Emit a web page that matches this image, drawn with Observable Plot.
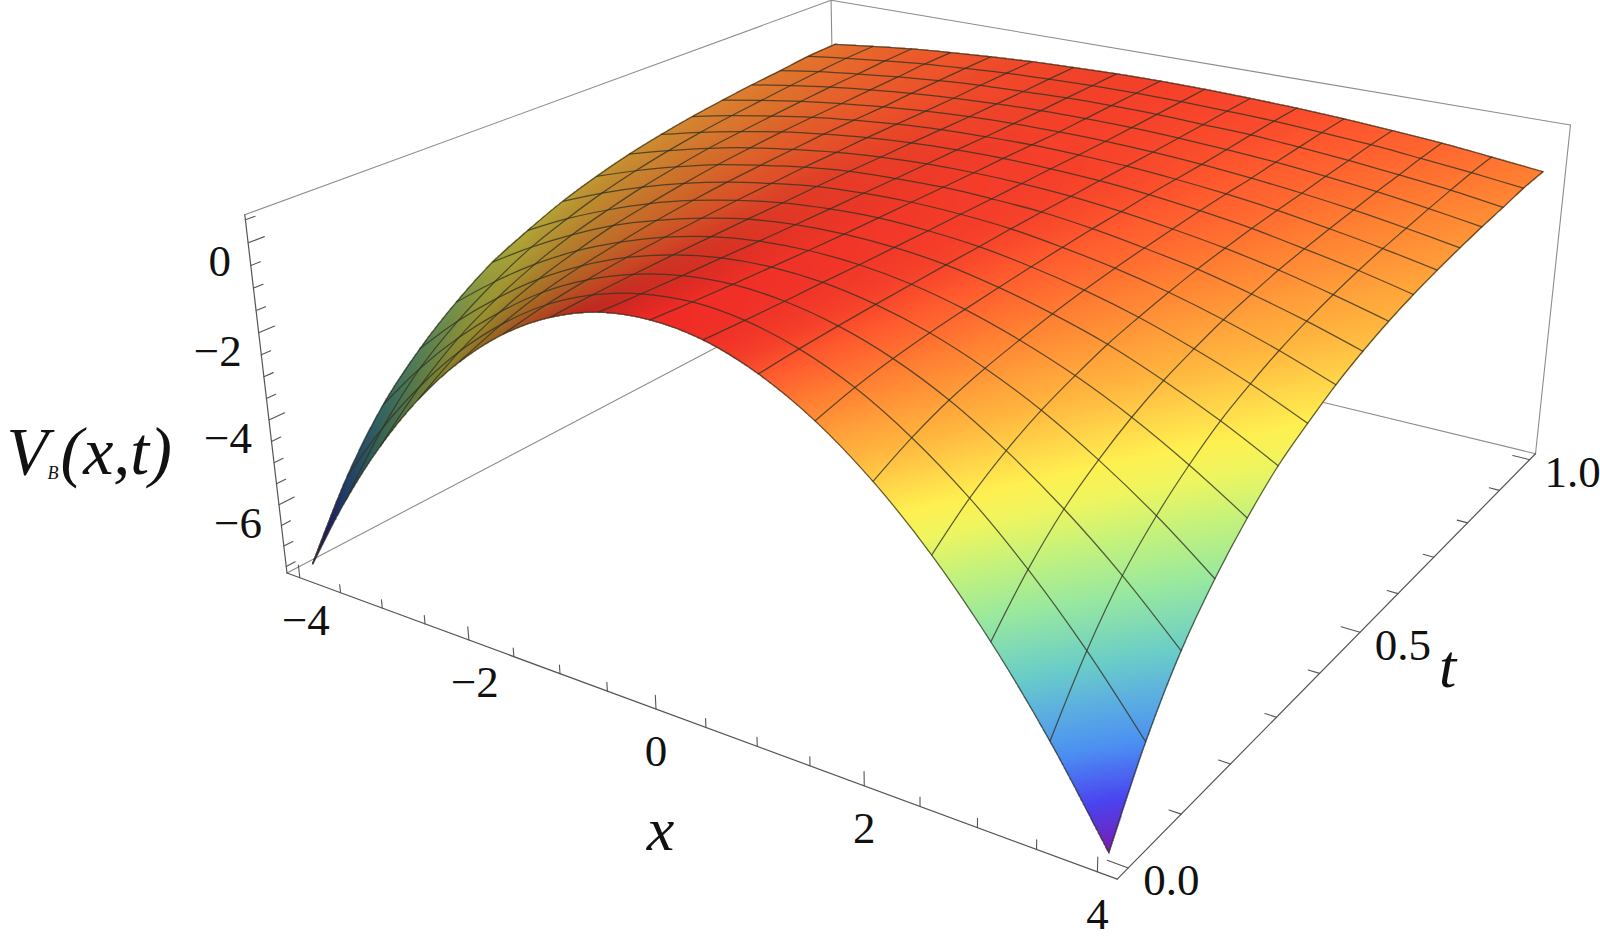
<!DOCTYPE html>
<html><head><meta charset="utf-8">
<script src="https://cdn.jsdelivr.net/npm/d3@7"></script>
<script src="https://cdn.jsdelivr.net/npm/@observablehq/plot@0.6"></script>
<style>html,body{margin:0;padding:0;background:#fff}svg{display:block}
svg text{font-family:"Liberation Serif","Times New Roman",serif !important}</style>
</head><body><div id="chart"></div>
<script>
// values
const xValues = [-4,-3.5,-3,-2.5,-2,-1.5,-1,-0.5,0,0.5,1,1.5,2,2.5,3,3.5,4];
const tValues = [0,.0625,.125,.1875,.25,.3125,.375,.4375,.5,.5625,.625,.6875,.75,.8125,.875,.9375,1];
// V at x = 0, .5, ... 4 (the surface reads as mirror-symmetric in x), one row per t
const vRows = [
 [.44,.32,-.06,-.68,-1.55,-2.66,-4.02,-5.63,-7.49],
 [.38,.28,-.01,-.49,-1.18,-2.06,-3.14,-4.41,-5.87],
 [.33,.25,.02,-.36,-.90,-1.61,-2.46,-3.46,-4.62],
 [.29,.23,.04,-.27,-.71,-1.27,-1.97,-2.78,-3.72],
 [.25,.20,.05,-.21,-.57,-1.02,-1.58,-2.25,-3.01],
 [.22,.18,.06,-.16,-.45,-.81,-1.28,-1.82,-2.44],
 [.20,.16,.06,-.12,-.36,-.67,-1.06,-1.51,-2.04],
 [.18,.15,.07,-.09,-.29,-.55,-.87,-1.25,-1.69],
 [.16,.13,.07,-.06,-.24,-.45,-.73,-1.05,-1.42],
 [.14,.12,.06,-.05,-.20,-.38,-.61,-.89,-1.20],
 [.13,.11,.06,-.03,-.16,-.32,-.53,-.76,-1.03],
 [.11,.09,.05,-.03,-.14,-.28,-.46,-.66,-.89],
 [.09,.08,.04,-.03,-.13,-.25,-.40,-.58,-.78],
 [.09,.08,.04,-.02,-.10,-.21,-.34,-.50,-.68],
 [.09,.08,.04,0,-.08,-.18,-.30,-.43,-.60],
 [.09,.08,.05,.01,-.06,-.14,-.25,-.37,-.51],
 [.09,.08,.05,.01,-.05,-.13,-.22,-.34,-.47]
];
const xTicks = d3.range(-4,4.01,.5), xLabels = [-4,-2,0,2,4];
const tTicks = d3.range(0,1.01,.1), tLabels = [0,.5,1];
const zTicks = d3.range(-7.5,.51,.5), zLabels = [-6,-4,-2,0];
const colorV = [-7.5,-6.7,-5.87,-5.2,-4.62,-3.72,-3,-2.44,-2.04,-1.69,-1.2,-.89,-.47,-.1,.1,.25,.44];
const colorC = ["#7a1cb0","#4a44f0","#4c90f2","#5cb0e0","#6acdc8","#98e8a0","#c4f27c","#eef560","#fff050","#ffd84a","#ffb43e","#ffa03a","#ff7f32","#ff5a2e","#f5402a","#f03428","#f02a26"];
const box = {x:[-4.16,4.16], t:[-.02,1.02], z:[-7.66,.61]};

// perspective view of the plot box
function proj(x,t,z){
  const u=(x-box.x[0])/(box.x[1]-box.x[0]), v=(t-box.t[0])/(box.t[1]-box.t[0]), w=(z-box.z[0])/(box.z[1]-box.z[0]);
  const d=1-.1999*u+.3064*v-.061*w;
  return {px:(607*u+805*v-57.1*w+286.5)/d, py:(130.5*u-201.5*v-371.3*w+572.5)/d};
}
const V = (i,k)=>vRows[k][Math.abs(i-8)];
const cr=(a,b,c,d,f)=>.5*(2*b+(c-a)*f+(2*a-5*b+4*c-d)*f*f+(3*b-a-3*c+d)*f*f*f);
const edge=(A,i,n)=>i<0?2*A[0]-A[1]:i>n?2*A[n]-A[n-1]:A[i];

// shading: every screen pixel the surface covers gets one colour from the table's nodes
const ramp=d3.scaleLinear().domain(colorV).range(colorC).interpolate(d3.interpolateRgb).clamp(true);
const LUT=d3.range(2048).map(n=>d3.rgb(ramp(-7.6+n/2047*8.1)));
const W=1600,H=939,SX=90,ST=220,MX=16*SX,MT=16*ST;
const zBuf=new Float32Array(W*H).fill(NaN), sBuf=new Float32Array(W*H);
const nodeIdx=d3.range(17);
const cols=d3.range(MX+1).map(a=>{ // the 17 values along t at fine x position a
  const i=Math.min(15,Math.floor(a/SX)), f=a/SX-i;
  return nodeIdx.map(k=>{const A=nodeIdx.map(j=>V(j,k));return cr(edge(A,i-1,16),A[i],A[i+1],edge(A,i+2,16),f);});
});
for(let b=MT;b>=0;b--){
  const k=Math.min(15,Math.floor(b/ST)), ft=b/ST-k, t=b/MT;
  const at=C=>cr(edge(C,k-1,16),C[k],C[k+1],edge(C,k+2,16),ft);
  for(let a=0;a<=MX;a++){
    const z=at(cols[a]);
    const {px,py}=proj(-4+a/SX*.5,t,z);
    const ix=px|0, iy=py|0;
    if(ix<0||iy<0||ix>=W||iy>=H) continue;
    const a2=Math.min(a+1,MX), a1=Math.max(a-1,0);
    zBuf[iy*W+ix]=z; sBuf[iy*W+ix]=(at(cols[a2])-at(cols[a1]))/((a2-a1)/SX*.5);
  }
}
const rx=[],ry=[],rc=[];
for(let y=0;y<H;y++)for(let x=0;x<W;x++){
  const z=zBuf[y*W+x]; if(z!==z) continue;
  const s=sBuf[y*W+x], f=s>0?1/(1+.4*s):1, c=LUT[Math.max(0,Math.min(2047,Math.round((z+7.6)/8.1*2047)))];
  rx.push(x+.5);ry.push(y+.5);rc.push(`rgb(${c.r*f|0},${c.g*f|0},${c.b*f|0})`);
}

// mesh lines through the table's nodes
const meshRows=[];
xValues.forEach((x,i)=>tValues.forEach((t,k)=>meshRows.push({...proj(x,t,V(i,k)),id:"x"+i})));
tValues.forEach((t,k)=>xValues.forEach((x,i)=>meshRows.push({...proj(x,t,V(i,k)),id:"t"+k})));

const [x0,x1]=box.x,[t0,t1]=box.t,[z0,z1]=box.z;
const seg=(a,b,id)=>[{...proj(...a),id},{...proj(...b),id}];
const backBox=[
 seg([x0,t0,z0],[x0,t1,z0],"a"),seg([x0,t1,z0],[x1,t1,z0],"b"),seg([x0,t1,z0],[x0,t1,z1],"c"),
 seg([x0,t0,z1],[x0,t1,z1],"d"),seg([x0,t1,z1],[x1,t1,z1],"e"),seg([x1,t1,z1],[x1,t1,z0],"f")
].flat();
const frontBox=[seg([x0,t0,z0],[x1,t0,z0],"g"),seg([x1,t0,z0],[x1,t1,z0],"h"),seg([x0,t0,z0],[x0,t0,z1],"i")].flat();
const tickRows=[];
xTicks.forEach(x=>{const L=xLabels.includes(x)?.31:.2;tickRows.push(...seg([x,t0,z0],[x,t0,z0+L],"x"+x));});
tTicks.forEach(t=>{const m=tLabels.some(v=>Math.abs(v-t)<1e-6);const L=m?.17:.1;tickRows.push(...seg([x1,t,z0],[x1-L,t,z0],"t"+t));});
zTicks.forEach(z=>{const L=zLabels.includes(z)?.022:.013;tickRows.push(...seg([x0,t0,z],[x0,t0+L,z],"z"+z));});
const fmt=v=>v<0?"\u2212"+(-v):""+v;
const serif="Liberation Serif";
const tick={fontSize:45,fontFamily:serif,fill:"#111",stroke:"none",x:"px",y:"py",text:"s"};
const xl=xLabels.map(x=>({...proj(x,t0,z0),s:fmt(x),neg:x<0}));
const tl=tLabels.map(t=>({...proj(x1,t,z0),s:t.toFixed(1)}));
const zl=zLabels.map(z=>({...proj(x0,t0,z),s:fmt(z)}));
const title={fontFamily:serif,fontStyle:"italic",fill:"#111",stroke:"none",x:"px",y:"py",text:"s"};

const chart=Plot.plot({
  width:W,height:H,margin:0,
  x:{domain:[0,W],range:[0,W],axis:null},
  y:{domain:[0,H],range:[0,H],axis:null},
  color:{type:"identity"},
  style:{background:"#fff"},
  marks:[
    Plot.line(backBox,{x:"px",y:"py",z:"id",stroke:"#8c8c8c",strokeWidth:1.1}),
    Plot.line(frontBox,{x:"px",y:"py",z:"id",stroke:"#555",strokeWidth:1.2}),
    Plot.line(tickRows,{x:"px",y:"py",z:"id",stroke:"#555",strokeWidth:1.1}),
    Plot.raster({length:rx.length},{x:rx,y:ry,fill:rc,x1:0,x2:W,y1:0,y2:H,width:W,height:H}),
    Plot.line(meshRows,{x:"px",y:"py",z:"id",curve:"catmull-rom",stroke:"#333322",strokeOpacity:.78,strokeWidth:1.25}),
    Plot.text(zl,{...tick,textAnchor:"end",dx:-17,dy:19}),
    Plot.text(xl.filter(d=>d.neg),{...tick,dx:6,dy:43}),
    Plot.text(xl.filter(d=>!d.neg),{...tick,dx:0,dy:43}),
    Plot.text(tl,{...tick,dx:43,dy:13}),
    Plot.text([{s:"x",px:660,py:830}],{...title,fontSize:62}),
    Plot.text([{s:"t",px:1447,py:667}],{...title,fontSize:62}),
    Plot.text([{s:"V",px:6,py:473}],{...title,fontSize:68,textAnchor:"start",lineAnchor:"bottom"}),
    Plot.text([{s:"B",px:47,py:478}],{...title,fontSize:18,textAnchor:"start",lineAnchor:"bottom"}),
    Plot.text([{s:"(x,t)",px:60,py:473}],{...title,fontSize:68,textAnchor:"start",lineAnchor:"bottom"})
  ]
});
document.getElementById("chart").append(chart);
</script></body></html>
